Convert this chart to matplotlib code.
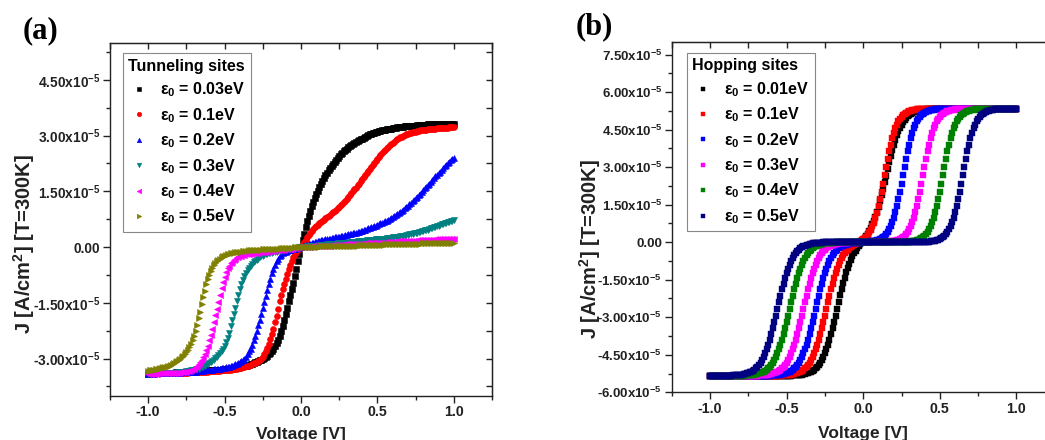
import numpy as np
import matplotlib
matplotlib.use('Agg')
import matplotlib.pyplot as plt
from matplotlib.ticker import MultipleLocator

plt.rcParams['font.family'] = ['Liberation Sans', 'DejaVu Sans']
plt.rcParams['font.weight'] = 'bold'
plt.rcParams['mathtext.fontset'] = 'custom'
plt.rcParams['mathtext.rm'] = 'Liberation Sans:bold'
plt.rcParams['mathtext.bf'] = 'Liberation Sans:bold'
plt.rcParams['mathtext.sf'] = 'Liberation Sans:bold'
plt.rcParams['mathtext.it'] = 'Liberation Sans'

# ---------------- data (current density in units of 1e-5 A/cm^2) ----------------
voltage = np.round(np.linspace(-1.0, 1.0, 201), 2)

tun_labels = ['$\\varepsilon_0$ = 0.03eV', '$\\varepsilon_0$ = 0.1eV', '$\\varepsilon_0$ = 0.2eV',
              '$\\varepsilon_0$ = 0.3eV', '$\\varepsilon_0$ = 0.4eV', '$\\varepsilon_0$ = 0.5eV']
hop_labels = ['$\\varepsilon_0$ = 0.01eV', '$\\varepsilon_0$ = 0.1eV', '$\\varepsilon_0$ = 0.2eV',
              '$\\varepsilon_0$ = 0.3eV', '$\\varepsilon_0$ = 0.4eV', '$\\varepsilon_0$ = 0.5eV']

tun_003 = [
 -3.41, -3.41, -3.41, -3.40, -3.40, -3.40, -3.40, -3.40, -3.39, -3.39,
 -3.39, -3.39, -3.39, -3.38, -3.38, -3.38, -3.38, -3.38, -3.37, -3.37,
 -3.37, -3.37, -3.37, -3.36, -3.36, -3.36, -3.36, -3.36, -3.35, -3.35,
 -3.35, -3.35, -3.34, -3.34, -3.34, -3.34, -3.33, -3.33, -3.33, -3.32,
 -3.32, -3.32, -3.31, -3.31, -3.31, -3.31, -3.30, -3.30, -3.30, -3.29,
 -3.29, -3.29, -3.28, -3.28, -3.27, -3.27, -3.26, -3.25, -3.25, -3.24,
 -3.23, -3.22, -3.21, -3.20, -3.19, -3.18, -3.17, -3.15, -3.14, -3.12,
 -3.10, -3.08, -3.07, -3.05, -3.03, -3.01, -2.98, -2.95, -2.92, -2.88,
 -2.84, -2.79, -2.73, -2.67, -2.59, -2.50, -2.39, -2.26, -2.12, -1.96,
 -1.80, -1.63, -1.46, -1.30, -1.13, -0.96, -0.78, -0.58, -0.38, -0.19,
 0.00, 0.18, 0.36, 0.53, 0.69, 0.84, 0.98, 1.11, 1.22, 1.32,
 1.42, 1.51, 1.61, 1.70, 1.79, 1.87, 1.94, 2.00, 2.07, 2.13,
 2.18, 2.24, 2.30, 2.35, 2.41, 2.46, 2.50, 2.54, 2.58, 2.62,
 2.65, 2.68, 2.71, 2.74, 2.77, 2.80, 2.82, 2.85, 2.87, 2.90,
 2.92, 2.94, 2.96, 2.99, 3.01, 3.03, 3.04, 3.06, 3.07, 3.09,
 3.10, 3.12, 3.13, 3.14, 3.15, 3.16, 3.17, 3.17, 3.18, 3.19,
 3.20, 3.21, 3.21, 3.22, 3.22, 3.23, 3.24, 3.24, 3.25, 3.25,
 3.26, 3.26, 3.26, 3.27, 3.27, 3.27, 3.28, 3.28, 3.28, 3.29,
 3.29, 3.29, 3.29, 3.30, 3.30, 3.30, 3.30, 3.30, 3.31, 3.31,
 3.31, 3.31, 3.31, 3.31, 3.32, 3.32, 3.32, 3.32, 3.32, 3.32,
 3.32]

tun_01 = [
 -3.41, -3.41, -3.41, -3.41, -3.41, -3.40, -3.40, -3.40, -3.40, -3.40,
 -3.40, -3.40, -3.40, -3.40, -3.39, -3.39, -3.39, -3.39, -3.39, -3.39,
 -3.39, -3.39, -3.38, -3.38, -3.38, -3.38, -3.38, -3.37, -3.37, -3.37,
 -3.37, -3.37, -3.36, -3.36, -3.36, -3.36, -3.35, -3.35, -3.35, -3.35,
 -3.34, -3.34, -3.34, -3.34, -3.33, -3.33, -3.33, -3.33, -3.32, -3.32,
 -3.32, -3.31, -3.31, -3.30, -3.30, -3.29, -3.29, -3.28, -3.27, -3.26,
 -3.26, -3.25, -3.24, -3.23, -3.21, -3.20, -3.19, -3.17, -3.15, -3.13,
 -3.11, -3.09, -3.07, -3.04, -3.00, -2.95, -2.89, -2.81, -2.71, -2.60,
 -2.48, -2.35, -2.20, -2.03, -1.85, -1.66, -1.46, -1.28, -1.13, -0.99,
 -0.86, -0.73, -0.60, -0.47, -0.37, -0.28, -0.20, -0.13, -0.08, -0.04,
 0.00, 0.07, 0.13, 0.19, 0.26, 0.32, 0.38, 0.43, 0.48, 0.53,
 0.57, 0.60, 0.64, 0.67, 0.70, 0.73, 0.77, 0.80, 0.84, 0.87,
 0.91, 0.94, 0.98, 1.01, 1.05, 1.08, 1.12, 1.16, 1.21, 1.25,
 1.30, 1.35, 1.40, 1.45, 1.50, 1.55, 1.60, 1.66, 1.71, 1.77,
 1.82, 1.88, 1.93, 1.99, 2.04, 2.10, 2.16, 2.21, 2.27, 2.32,
 2.38, 2.43, 2.48, 2.53, 2.58, 2.62, 2.66, 2.70, 2.74, 2.78,
 2.81, 2.84, 2.87, 2.90, 2.93, 2.95, 2.97, 2.99, 3.01, 3.03,
 3.05, 3.06, 3.07, 3.09, 3.10, 3.11, 3.12, 3.13, 3.14, 3.14,
 3.15, 3.16, 3.16, 3.17, 3.17, 3.18, 3.18, 3.19, 3.19, 3.20,
 3.20, 3.20, 3.20, 3.21, 3.21, 3.21, 3.21, 3.22, 3.22, 3.22,
 3.22]

tun_02 = [
 -3.41, -3.41, -3.41, -3.41, -3.41, -3.40, -3.40, -3.40, -3.40, -3.40,
 -3.40, -3.40, -3.39, -3.39, -3.39, -3.39, -3.39, -3.38, -3.38, -3.38,
 -3.38, -3.38, -3.37, -3.37, -3.37, -3.37, -3.36, -3.36, -3.36, -3.35,
 -3.35, -3.35, -3.34, -3.34, -3.34, -3.33, -3.33, -3.32, -3.32, -3.31,
 -3.31, -3.30, -3.30, -3.29, -3.29, -3.28, -3.28, -3.27, -3.26, -3.26,
 -3.25, -3.24, -3.23, -3.22, -3.21, -3.19, -3.18, -3.16, -3.14, -3.12,
 -3.10, -3.07, -3.04, -3.00, -2.95, -2.88, -2.81, -2.73, -2.63, -2.51,
 -2.38, -2.25, -2.11, -1.97, -1.81, -1.65, -1.49, -1.32, -1.15, -0.99,
 -0.85, -0.71, -0.58, -0.47, -0.38, -0.31, -0.25, -0.21, -0.17, -0.14,
 -0.12, -0.10, -0.09, -0.08, -0.06, -0.05, -0.04, -0.03, -0.02, -0.01,
 0.00, 0.02, 0.03, 0.05, 0.06, 0.08, 0.09, 0.10, 0.12, 0.13,
 0.14, 0.15, 0.16, 0.18, 0.19, 0.20, 0.21, 0.22, 0.22, 0.23,
 0.24, 0.25, 0.26, 0.26, 0.27, 0.28, 0.29, 0.30, 0.31, 0.32,
 0.33, 0.34, 0.35, 0.36, 0.37, 0.38, 0.39, 0.40, 0.41, 0.43,
 0.44, 0.45, 0.47, 0.48, 0.50, 0.51, 0.53, 0.55, 0.56, 0.58,
 0.60, 0.62, 0.64, 0.65, 0.67, 0.69, 0.71, 0.74, 0.76, 0.79,
 0.81, 0.84, 0.86, 0.89, 0.92, 0.95, 0.98, 1.01, 1.04, 1.08,
 1.11, 1.15, 1.19, 1.23, 1.27, 1.31, 1.35, 1.39, 1.44, 1.48,
 1.53, 1.58, 1.62, 1.67, 1.71, 1.76, 1.81, 1.85, 1.90, 1.94,
 1.99, 2.03, 2.08, 2.12, 2.17, 2.21, 2.25, 2.29, 2.33, 2.37,
 2.41]

tun_03 = [
 -3.42, -3.42, -3.42, -3.41, -3.41, -3.41, -3.41, -3.41, -3.40, -3.40,
 -3.40, -3.40, -3.39, -3.39, -3.39, -3.39, -3.38, -3.38, -3.38, -3.37,
 -3.37, -3.36, -3.36, -3.35, -3.35, -3.34, -3.33, -3.33, -3.32, -3.31,
 -3.30, -3.29, -3.28, -3.27, -3.26, -3.24, -3.23, -3.21, -3.18, -3.16,
 -3.13, -3.10, -3.07, -3.03, -2.99, -2.95, -2.91, -2.86, -2.80, -2.73,
 -2.66, -2.56, -2.45, -2.30, -2.13, -1.97, -1.80, -1.63, -1.46, -1.29,
 -1.13, -1.00, -0.88, -0.78, -0.70, -0.63, -0.57, -0.51, -0.45, -0.41,
 -0.37, -0.34, -0.31, -0.28, -0.25, -0.23, -0.22, -0.20, -0.19, -0.17,
 -0.16, -0.15, -0.14, -0.13, -0.12, -0.11, -0.10, -0.10, -0.09, -0.08,
 -0.07, -0.07, -0.06, -0.05, -0.05, -0.04, -0.03, -0.02, -0.02, -0.01,
 0.00, 0.00, 0.01, 0.01, 0.02, 0.02, 0.02, 0.03, 0.03, 0.04,
 0.04, 0.04, 0.05, 0.05, 0.06, 0.06, 0.06, 0.07, 0.07, 0.08,
 0.08, 0.08, 0.09, 0.09, 0.10, 0.10, 0.10, 0.11, 0.11, 0.12,
 0.12, 0.12, 0.13, 0.13, 0.14, 0.14, 0.14, 0.15, 0.15, 0.16,
 0.16, 0.17, 0.17, 0.18, 0.18, 0.19, 0.19, 0.20, 0.20, 0.21,
 0.21, 0.21, 0.22, 0.22, 0.23, 0.23, 0.24, 0.24, 0.25, 0.25,
 0.26, 0.27, 0.27, 0.28, 0.28, 0.29, 0.30, 0.31, 0.31, 0.32,
 0.33, 0.34, 0.35, 0.36, 0.37, 0.38, 0.39, 0.40, 0.41, 0.43,
 0.44, 0.45, 0.46, 0.47, 0.49, 0.50, 0.52, 0.53, 0.55, 0.56,
 0.58, 0.59, 0.61, 0.62, 0.64, 0.65, 0.67, 0.68, 0.70, 0.71,
 0.72]

tun_04 = [
 -3.41, -3.41, -3.41, -3.41, -3.41, -3.41, -3.41, -3.40, -3.40, -3.40,
 -3.40, -3.40, -3.40, -3.39, -3.39, -3.39, -3.39, -3.39, -3.38, -3.38,
 -3.38, -3.37, -3.37, -3.36, -3.36, -3.35, -3.34, -3.33, -3.31, -3.29,
 -3.27, -3.24, -3.20, -3.15, -3.10, -3.04, -2.96, -2.87, -2.77, -2.65,
 -2.51, -2.36, -2.21, -2.03, -1.84, -1.66, -1.47, -1.28, -1.10, -0.94,
 -0.80, -0.68, -0.57, -0.50, -0.44, -0.39, -0.34, -0.31, -0.28, -0.26,
 -0.24, -0.23, -0.22, -0.21, -0.20, -0.19, -0.18, -0.18, -0.17, -0.17,
 -0.16, -0.15, -0.15, -0.14, -0.14, -0.13, -0.13, -0.12, -0.12, -0.11,
 -0.11, -0.10, -0.10, -0.09, -0.09, -0.08, -0.08, -0.07, -0.07, -0.06,
 -0.06, -0.05, -0.05, -0.04, -0.04, -0.03, -0.02, -0.02, -0.01, -0.01,
 0.00, 0.00, 0.00, 0.01, 0.01, 0.01, 0.01, 0.02, 0.02, 0.02,
 0.02, 0.03, 0.03, 0.03, 0.03, 0.03, 0.04, 0.04, 0.04, 0.04,
 0.05, 0.05, 0.05, 0.05, 0.06, 0.06, 0.06, 0.06, 0.06, 0.07,
 0.07, 0.07, 0.07, 0.08, 0.08, 0.08, 0.08, 0.09, 0.09, 0.09,
 0.09, 0.09, 0.10, 0.10, 0.10, 0.10, 0.11, 0.11, 0.11, 0.11,
 0.12, 0.12, 0.12, 0.12, 0.12, 0.13, 0.13, 0.13, 0.13, 0.14,
 0.14, 0.14, 0.14, 0.15, 0.15, 0.15, 0.15, 0.15, 0.16, 0.16,
 0.16, 0.16, 0.17, 0.17, 0.17, 0.17, 0.18, 0.18, 0.18, 0.18,
 0.19, 0.19, 0.19, 0.19, 0.20, 0.20, 0.20, 0.20, 0.21, 0.21,
 0.21, 0.21, 0.22, 0.22, 0.22, 0.22, 0.22, 0.23, 0.23, 0.23,
 0.23]

tun_05 = [
 -3.33, -3.32, -3.32, -3.31, -3.30, -3.29, -3.28, -3.27, -3.26, -3.25,
 -3.24, -3.23, -3.22, -3.21, -3.19, -3.17, -3.15, -3.12, -3.10, -3.07,
 -3.04, -3.00, -2.96, -2.92, -2.87, -2.82, -2.76, -2.69, -2.61, -2.51,
 -2.39, -2.25, -2.10, -1.92, -1.74, -1.54, -1.35, -1.17, -1.00, -0.86,
 -0.74, -0.64, -0.55, -0.49, -0.43, -0.38, -0.34, -0.31, -0.28, -0.25,
 -0.23, -0.22, -0.20, -0.19, -0.17, -0.16, -0.15, -0.14, -0.13, -0.13,
 -0.12, -0.12, -0.11, -0.11, -0.10, -0.10, -0.09, -0.09, -0.09, -0.08,
 -0.08, -0.08, -0.07, -0.07, -0.07, -0.06, -0.06, -0.06, -0.05, -0.05,
 -0.05, -0.05, -0.04, -0.04, -0.04, -0.04, -0.04, -0.03, -0.03, -0.03,
 -0.03, -0.03, -0.02, -0.02, -0.02, -0.02, -0.01, -0.01, -0.01, 0.00,
 0.00, 0.00, 0.00, 0.00, 0.00, 0.01, 0.01, 0.01, 0.01, 0.01,
 0.01, 0.01, 0.01, 0.02, 0.02, 0.02, 0.02, 0.02, 0.02, 0.02,
 0.02, 0.03, 0.03, 0.03, 0.03, 0.03, 0.03, 0.03, 0.03, 0.04,
 0.04, 0.04, 0.04, 0.04, 0.04, 0.04, 0.04, 0.04, 0.05, 0.05,
 0.05, 0.05, 0.05, 0.05, 0.05, 0.05, 0.05, 0.06, 0.06, 0.06,
 0.06, 0.06, 0.06, 0.06, 0.06, 0.07, 0.07, 0.07, 0.07, 0.07,
 0.07, 0.07, 0.07, 0.08, 0.08, 0.08, 0.08, 0.08, 0.08, 0.08,
 0.08, 0.09, 0.09, 0.09, 0.09, 0.09, 0.09, 0.09, 0.09, 0.10,
 0.10, 0.10, 0.10, 0.10, 0.10, 0.10, 0.10, 0.11, 0.11, 0.11,
 0.11, 0.11, 0.11, 0.11, 0.11, 0.12, 0.12, 0.12, 0.12, 0.12,
 0.12]

hop_001 = [
 -5.34, -5.34, -5.34, -5.34, -5.34, -5.34, -5.34, -5.34, -5.34, -5.34,
 -5.34, -5.34, -5.34, -5.34, -5.34, -5.34, -5.34, -5.34, -5.34, -5.34,
 -5.34, -5.34, -5.34, -5.34, -5.34, -5.34, -5.34, -5.34, -5.34, -5.34,
 -5.34, -5.34, -5.34, -5.34, -5.34, -5.34, -5.34, -5.34, -5.34, -5.34,
 -5.34, -5.34, -5.34, -5.34, -5.34, -5.34, -5.34, -5.34, -5.34, -5.34,
 -5.34, -5.33, -5.33, -5.33, -5.32, -5.32, -5.32, -5.31, -5.30, -5.30,
 -5.29, -5.28, -5.26, -5.24, -5.22, -5.20, -5.17, -5.13, -5.09, -5.03,
 -4.97, -4.90, -4.81, -4.70, -4.58, -4.44, -4.28, -4.10, -3.90, -3.68,
 -3.45, -3.20, -2.94, -2.67, -2.40, -2.13, -1.87, -1.64, -1.42, -1.21,
 -1.02, -0.86, -0.71, -0.57, -0.45, -0.34, -0.25, -0.17, -0.08, 0.00,
 0.08, 0.17, 0.25, 0.34, 0.45, 0.57, 0.71, 0.86, 1.02, 1.21,
 1.42, 1.64, 1.87, 2.13, 2.39, 2.66, 2.93, 3.19, 3.44, 3.68,
 3.90, 4.10, 4.28, 4.44, 4.58, 4.70, 4.81, 4.90, 4.97, 5.03,
 5.09, 5.13, 5.17, 5.20, 5.22, 5.24, 5.26, 5.28, 5.29, 5.30,
 5.30, 5.31, 5.32, 5.32, 5.32, 5.33, 5.33, 5.33, 5.33, 5.34,
 5.34, 5.34, 5.34, 5.34, 5.34, 5.34, 5.34, 5.34, 5.34, 5.34,
 5.34, 5.34, 5.34, 5.34, 5.34, 5.34, 5.34, 5.34, 5.34, 5.34,
 5.34, 5.34, 5.34, 5.34, 5.34, 5.34, 5.34, 5.34, 5.34, 5.34,
 5.34, 5.34, 5.34, 5.34, 5.34, 5.34, 5.34, 5.34, 5.34, 5.34,
 5.34, 5.34, 5.34, 5.34, 5.34, 5.34, 5.34, 5.34, 5.34, 5.34,
 5.34]

hop_01 = [
 -5.34, -5.34, -5.34, -5.34, -5.34, -5.34, -5.34, -5.34, -5.34, -5.34,
 -5.34, -5.34, -5.34, -5.34, -5.34, -5.34, -5.34, -5.34, -5.34, -5.34,
 -5.34, -5.34, -5.34, -5.34, -5.34, -5.34, -5.34, -5.34, -5.34, -5.34,
 -5.34, -5.34, -5.34, -5.34, -5.34, -5.34, -5.34, -5.34, -5.34, -5.34,
 -5.34, -5.34, -5.34, -5.33, -5.33, -5.33, -5.33, -5.32, -5.32, -5.32,
 -5.31, -5.30, -5.30, -5.29, -5.28, -5.26, -5.24, -5.22, -5.20, -5.17,
 -5.13, -5.09, -5.03, -4.97, -4.90, -4.81, -4.70, -4.58, -4.44, -4.28,
 -4.10, -3.90, -3.68, -3.45, -3.20, -2.94, -2.67, -2.40, -2.14, -1.89,
 -1.66, -1.44, -1.24, -1.06, -0.90, -0.76, -0.64, -0.53, -0.43, -0.36,
 -0.30, -0.23, -0.19, -0.14, -0.10, -0.07, -0.04, 0.00, 0.03, 0.07,
 0.12, 0.16, 0.22, 0.30, 0.39, 0.49, 0.63, 0.78, 0.96, 1.18,
 1.44, 1.71, 2.02, 2.34, 2.67, 3.00, 3.32, 3.63, 3.90, 4.15,
 4.37, 4.55, 4.70, 4.83, 4.93, 5.02, 5.09, 5.14, 5.18, 5.22,
 5.24, 5.26, 5.28, 5.29, 5.30, 5.31, 5.32, 5.32, 5.33, 5.33,
 5.33, 5.34, 5.34, 5.34, 5.34, 5.34, 5.34, 5.34, 5.34, 5.34,
 5.34, 5.34, 5.34, 5.34, 5.34, 5.34, 5.34, 5.34, 5.34, 5.34,
 5.34, 5.34, 5.34, 5.34, 5.34, 5.34, 5.34, 5.34, 5.34, 5.34,
 5.34, 5.34, 5.34, 5.34, 5.34, 5.34, 5.34, 5.34, 5.34, 5.34,
 5.34, 5.34, 5.34, 5.34, 5.34, 5.34, 5.34, 5.34, 5.34, 5.34,
 5.34, 5.34, 5.34, 5.34, 5.34, 5.34, 5.34, 5.34, 5.34, 5.34,
 5.34]

hop_02 = [
 -5.34, -5.34, -5.34, -5.34, -5.34, -5.34, -5.34, -5.34, -5.34, -5.34,
 -5.34, -5.34, -5.34, -5.34, -5.34, -5.34, -5.34, -5.34, -5.34, -5.34,
 -5.34, -5.34, -5.34, -5.34, -5.34, -5.34, -5.34, -5.34, -5.34, -5.34,
 -5.34, -5.34, -5.34, -5.34, -5.34, -5.34, -5.33, -5.33, -5.33, -5.33,
 -5.32, -5.32, -5.32, -5.31, -5.30, -5.30, -5.29, -5.28, -5.26, -5.24,
 -5.22, -5.20, -5.17, -5.13, -5.09, -5.03, -4.97, -4.90, -4.81, -4.70,
 -4.58, -4.44, -4.28, -4.10, -3.90, -3.68, -3.45, -3.20, -2.94, -2.67,
 -2.40, -2.14, -1.89, -1.66, -1.44, -1.24, -1.06, -0.90, -0.76, -0.64,
 -0.53, -0.44, -0.37, -0.31, -0.25, -0.21, -0.17, -0.14, -0.12, -0.10,
 -0.08, -0.07, -0.05, -0.04, -0.04, -0.03, -0.02, -0.02, -0.02, -0.01,
 0.00, 0.00, 0.00, 0.02, 0.02, 0.03, 0.04, 0.05, 0.06, 0.08,
 0.10, 0.12, 0.16, 0.20, 0.25, 0.32, 0.41, 0.51, 0.64, 0.79,
 0.97, 1.19, 1.44, 1.71, 2.02, 2.34, 2.67, 3.00, 3.32, 3.63,
 3.90, 4.15, 4.37, 4.55, 4.70, 4.83, 4.93, 5.02, 5.09, 5.14,
 5.18, 5.22, 5.24, 5.26, 5.28, 5.29, 5.30, 5.31, 5.32, 5.32,
 5.33, 5.33, 5.33, 5.34, 5.34, 5.34, 5.34, 5.34, 5.34, 5.34,
 5.34, 5.34, 5.34, 5.34, 5.34, 5.34, 5.34, 5.34, 5.34, 5.34,
 5.34, 5.34, 5.34, 5.34, 5.34, 5.34, 5.34, 5.34, 5.34, 5.34,
 5.34, 5.34, 5.34, 5.34, 5.34, 5.34, 5.34, 5.34, 5.34, 5.34,
 5.34, 5.34, 5.34, 5.34, 5.34, 5.34, 5.34, 5.34, 5.34, 5.34,
 5.34]

hop_03 = [
 -5.34, -5.34, -5.34, -5.34, -5.34, -5.34, -5.34, -5.34, -5.34, -5.34,
 -5.34, -5.34, -5.34, -5.34, -5.34, -5.34, -5.34, -5.34, -5.34, -5.34,
 -5.34, -5.34, -5.34, -5.34, -5.34, -5.34, -5.34, -5.34, -5.33, -5.33,
 -5.33, -5.33, -5.32, -5.32, -5.32, -5.31, -5.30, -5.30, -5.29, -5.28,
 -5.26, -5.24, -5.22, -5.20, -5.17, -5.13, -5.09, -5.03, -4.97, -4.90,
 -4.81, -4.70, -4.58, -4.44, -4.28, -4.10, -3.90, -3.68, -3.45, -3.20,
 -2.94, -2.67, -2.40, -2.14, -1.89, -1.66, -1.44, -1.24, -1.06, -0.90,
 -0.76, -0.64, -0.53, -0.44, -0.37, -0.31, -0.25, -0.21, -0.17, -0.14,
 -0.12, -0.10, -0.08, -0.07, -0.05, -0.04, -0.04, -0.03, -0.02, -0.02,
 -0.02, -0.01, -0.01, -0.01, -0.01, 0.00, 0.00, 0.00, 0.00, 0.00,
 0.00, 0.00, 0.00, 0.00, 0.00, 0.00, 0.00, 0.00, 0.00, 0.00,
 0.00, 0.00, 0.00, 0.01, 0.01, 0.01, 0.02, 0.02, 0.03, 0.04,
 0.05, 0.06, 0.08, 0.10, 0.12, 0.16, 0.20, 0.25, 0.32, 0.41,
 0.51, 0.64, 0.79, 0.97, 1.19, 1.44, 1.71, 2.02, 2.34, 2.67,
 3.00, 3.32, 3.63, 3.90, 4.15, 4.37, 4.55, 4.70, 4.83, 4.93,
 5.02, 5.09, 5.14, 5.18, 5.22, 5.24, 5.26, 5.28, 5.29, 5.30,
 5.31, 5.32, 5.32, 5.33, 5.33, 5.33, 5.34, 5.34, 5.34, 5.34,
 5.34, 5.34, 5.34, 5.34, 5.34, 5.34, 5.34, 5.34, 5.34, 5.34,
 5.34, 5.34, 5.34, 5.34, 5.34, 5.34, 5.34, 5.34, 5.34, 5.34,
 5.34, 5.34, 5.34, 5.34, 5.34, 5.34, 5.34, 5.34, 5.34, 5.34,
 5.34]

hop_04 = [
 -5.34, -5.34, -5.34, -5.34, -5.34, -5.34, -5.34, -5.34, -5.34, -5.34,
 -5.34, -5.34, -5.34, -5.34, -5.34, -5.34, -5.34, -5.34, -5.34, -5.33,
 -5.33, -5.33, -5.33, -5.32, -5.32, -5.32, -5.31, -5.30, -5.30, -5.29,
 -5.28, -5.26, -5.24, -5.22, -5.20, -5.17, -5.13, -5.09, -5.03, -4.97,
 -4.90, -4.81, -4.70, -4.58, -4.44, -4.28, -4.10, -3.90, -3.68, -3.45,
 -3.20, -2.94, -2.67, -2.40, -2.14, -1.89, -1.66, -1.44, -1.24, -1.06,
 -0.90, -0.76, -0.64, -0.53, -0.44, -0.37, -0.31, -0.25, -0.21, -0.17,
 -0.14, -0.12, -0.10, -0.08, -0.07, -0.05, -0.04, -0.04, -0.03, -0.02,
 -0.02, -0.02, -0.01, -0.01, -0.01, -0.01, 0.00, 0.00, 0.00, 0.00,
 0.00, 0.00, 0.00, 0.00, 0.00, 0.00, 0.00, 0.00, 0.00, 0.00,
 0.00, 0.00, 0.00, 0.00, 0.00, 0.00, 0.00, 0.00, 0.00, 0.00,
 0.00, 0.00, 0.00, 0.00, 0.00, 0.00, 0.00, 0.00, 0.00, 0.00,
 0.00, 0.00, 0.00, 0.00, 0.00, 0.00, 0.01, 0.01, 0.01, 0.02,
 0.02, 0.03, 0.04, 0.05, 0.06, 0.08, 0.10, 0.12, 0.16, 0.20,
 0.25, 0.32, 0.41, 0.51, 0.64, 0.79, 0.97, 1.19, 1.44, 1.71,
 2.02, 2.34, 2.67, 3.00, 3.32, 3.63, 3.90, 4.15, 4.37, 4.55,
 4.70, 4.83, 4.93, 5.02, 5.09, 5.14, 5.18, 5.22, 5.24, 5.26,
 5.28, 5.29, 5.30, 5.31, 5.32, 5.32, 5.33, 5.33, 5.33, 5.34,
 5.34, 5.34, 5.34, 5.34, 5.34, 5.34, 5.34, 5.34, 5.34, 5.34,
 5.34, 5.34, 5.34, 5.34, 5.34, 5.34, 5.34, 5.34, 5.34, 5.34,
 5.34]

hop_05 = [
 -5.34, -5.34, -5.34, -5.34, -5.34, -5.34, -5.34, -5.34, -5.34, -5.34,
 -5.34, -5.33, -5.33, -5.33, -5.33, -5.32, -5.32, -5.32, -5.31, -5.30,
 -5.30, -5.29, -5.28, -5.26, -5.24, -5.22, -5.20, -5.17, -5.13, -5.09,
 -5.03, -4.97, -4.90, -4.81, -4.70, -4.58, -4.44, -4.28, -4.10, -3.90,
 -3.68, -3.45, -3.20, -2.94, -2.67, -2.40, -2.14, -1.89, -1.66, -1.44,
 -1.24, -1.06, -0.90, -0.76, -0.64, -0.53, -0.44, -0.37, -0.31, -0.25,
 -0.21, -0.17, -0.14, -0.12, -0.10, -0.08, -0.07, -0.05, -0.04, -0.04,
 -0.03, -0.02, -0.02, -0.02, -0.01, -0.01, -0.01, -0.01, 0.00, 0.00,
 0.00, 0.00, 0.00, 0.00, 0.00, 0.00, 0.00, 0.00, 0.00, 0.00,
 0.00, 0.00, 0.00, 0.00, 0.00, 0.00, 0.00, 0.00, 0.00, 0.00,
 0.00, 0.00, 0.00, 0.00, 0.00, 0.00, 0.00, 0.00, 0.00, 0.00,
 0.00, 0.00, 0.00, 0.00, 0.00, 0.00, 0.00, 0.00, 0.00, 0.00,
 0.00, 0.00, 0.00, 0.00, 0.00, 0.00, 0.00, 0.00, 0.00, 0.00,
 0.00, 0.00, 0.00, 0.00, 0.00, 0.00, 0.00, 0.00, 0.00, 0.01,
 0.01, 0.01, 0.02, 0.02, 0.03, 0.04, 0.05, 0.06, 0.08, 0.10,
 0.12, 0.16, 0.20, 0.25, 0.32, 0.41, 0.51, 0.64, 0.79, 0.97,
 1.19, 1.44, 1.71, 2.02, 2.34, 2.67, 3.00, 3.32, 3.63, 3.90,
 4.15, 4.37, 4.55, 4.70, 4.83, 4.93, 5.02, 5.09, 5.14, 5.18,
 5.22, 5.24, 5.26, 5.28, 5.29, 5.30, 5.31, 5.32, 5.32, 5.33,
 5.33, 5.33, 5.34, 5.34, 5.34, 5.34, 5.34, 5.34, 5.34, 5.34,
 5.34]

tun_series = [tun_003, tun_01, tun_02, tun_03, tun_04, tun_05]
hop_series = [hop_001, hop_01, hop_02, hop_03, hop_04, hop_05]
for s in tun_series + hop_series:
    assert len(s) == len(voltage), len(s)

x_ticks = [-1.0, -0.5, 0.0, 0.5, 1.0]
x_ticklabels = ['-1.0', '-0.5', '0.0', '0.5', '1.0']
ya_ticks = [-3.0e-5, -1.5e-5, 0.0, 1.5e-5, 3.0e-5, 4.5e-5]
ya_ticklabels = ['-3.00x10$^{-5}$', '-1.50x10$^{-5}$', '0.00',
                 '1.50x10$^{-5}$', '3.00x10$^{-5}$', '4.50x10$^{-5}$']
yb_ticks = [-6.0e-5, -4.5e-5, -3.0e-5, -1.5e-5, 0.0, 1.5e-5, 3.0e-5, 4.5e-5, 6.0e-5, 7.5e-5]
yb_ticklabels = ['-6.00x10$^{-5}$', '-4.50x10$^{-5}$', '-3.00x10$^{-5}$', '-1.50x10$^{-5}$', '0.00',
                 '1.50x10$^{-5}$', '3.00x10$^{-5}$', '4.50x10$^{-5}$', '6.00x10$^{-5}$', '7.50x10$^{-5}$']

tun_colors = ['#000000', '#ff0000', '#0000ff', '#008080', '#ff00ff', '#808000']
tun_markers = ['s', 'o', '^', 'v', '<', '>']
hop_colors = ['#000000', '#ff0000', '#0000ff', '#ff00ff', '#008000', '#000080']

# ---------------- figure ----------------
W, H = 1045, 440
fig = plt.figure(figsize=(W / 100, H / 100), dpi=100)
axa = fig.add_axes([110 / W, 44.3 / H, 382 / W, 353 / H])
axb = fig.add_axes([671.7 / W, 47.7 / H, 383 / W, 350.3 / H])

scale = 1e-5
for ys, c, m, lab in zip(tun_series, tun_colors, tun_markers, tun_labels):
    axa.plot(voltage, np.array(ys) * scale, linestyle='none', marker=m, ms=4.3,
             mfc=c, mec=c, mew=0.4, label=lab)
for ys, c, lab in zip(hop_series, hop_colors, hop_labels):
    axb.plot(voltage, np.array(ys) * scale, linestyle='none', marker='s', ms=3.8,
             mfc=c, mec=c, mew=0.3, label=lab)


def style(ax, yticks, ylabels, ylim, ylab_xy, xlab_y, tsize):
    ax.set_xlim(-1.25, 1.25)
    ax.set_ylim(*ylim)
    ax.set_xticks(x_ticks)
    ax.set_xticklabels(x_ticklabels)
    ax.xaxis.set_minor_locator(MultipleLocator(0.25))
    ax.set_yticks(yticks)
    ax.set_yticklabels(ylabels)
    ax.yaxis.set_minor_locator(MultipleLocator(0.75e-5))
    ax.tick_params(which='major', direction='out', length=5, width=1,
                   labelsize=tsize, colors='#222222', pad=2)
    ax.tick_params(axis='x', which='major', labelsize=10.2)
    ax.tick_params(which='minor', direction='out', length=3, width=1, colors='#222222')
    for sp in ax.spines.values():
        sp.set_linewidth(1.0)
        sp.set_color('#222222')
    top = ax.secondary_xaxis('top')
    top.set_xticks(x_ticks)
    top.xaxis.set_minor_locator(MultipleLocator(0.25))
    top.tick_params(which='both', direction='in', length=4, width=1,
                    labeltop=False, colors='#222222')
    right = ax.secondary_yaxis('right')
    right.set_yticks(yticks)
    right.yaxis.set_minor_locator(MultipleLocator(0.75e-5))
    right.tick_params(which='both', direction='in', length=4, width=1,
                      labelright=False, colors='#222222')
    ax.set_ylabel('J [A/cm$^2$] [T=300K]', fontsize=14.5, fontweight='bold', color='#222222')
    ax.yaxis.set_label_coords(*ylab_xy)
    ax.set_xlabel('Voltage [V]', fontsize=12.5, fontweight='bold', color='#222222')
    ax.xaxis.set_label_coords(0.5, xlab_y)


style(axa, ya_ticks, ya_ticklabels, (-4.0e-5, 5.5e-5), (-0.191, 0.43), -0.088, 9.9)
style(axb, yb_ticks, yb_ticklabels, (-6.0e-5, 8.0e-5), (-0.180, 0.41), -0.095, 9.5)

for ax, title, anchor in [(axa, 'Tunneling sites', (0.033, 0.970)),
                          (axb, 'Hopping sites', (0.039, 0.969))]:
    leg = ax.legend(title=title, loc='upper left', bbox_to_anchor=anchor,
                    fontsize=11.5, title_fontsize=11.5, frameon=True, fancybox=False,
                    edgecolor='#888888', framealpha=1, markerscale=0.75,
                    handlelength=1.3, handletextpad=0.7, labelspacing=0.42,
                    borderpad=0.35, borderaxespad=0, alignment='left')
    leg.get_title().set_fontweight('bold')
    leg.get_frame().set_linewidth(0.8)

fig.text(40 / W, 1 - 31 / H, '(a)', family=['Liberation Serif', 'DejaVu Serif'],
         fontsize=22, fontweight='bold', ha='center', va='center')
fig.text(594 / W, 1 - 27 / H, '(b)', family=['Liberation Serif', 'DejaVu Serif'],
         fontsize=22, fontweight='bold', ha='center', va='center')

fig.savefig('out.png', dpi=100)
